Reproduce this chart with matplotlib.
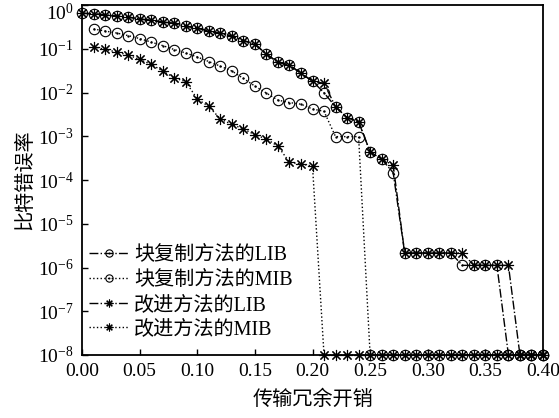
import numpy as np
import matplotlib
matplotlib.use("Agg")
import matplotlib.pyplot as plt
import matplotlib.transforms as mtrans
from matplotlib.path import Path

plt.rcParams['font.family'] = ['Liberation Serif', 'Noto Sans CJK SC']
plt.rcParams['mathtext.fontset'] = 'stix'

FLOOR = 1e-8

# x positions (transmission redundancy overhead)
x_lib = [round(0.01 * i, 2) for i in range(41)]
x_mib = [round(0.01 * i, 2) for i in range(1, 41)]

# Block replication method, LIB
block_lib = [0.646, 0.632, 0.590, 0.560, 0.531, 0.478, 0.447, 0.408, 0.381, 0.327,
             0.298, 0.254, 0.225, 0.195, 0.154, 0.127, 0.0756, 0.0491, 0.0424, 0.0274,
             0.0182, 0.00985, 0.00471, 0.00267, 0.00214, 0.00044, 0.000299, 0.000147,
             2.15e-6, 2.15e-6, 2.15e-6, 2.15e-6, 2.15e-6, 1.12e-6, 1.12e-6, 1.12e-6,
             1.12e-6, FLOOR, FLOOR, FLOOR, FLOOR]

# Improved method, LIB
impr_lib = [0.646, 0.632, 0.590, 0.560, 0.531, 0.478, 0.447, 0.408, 0.381, 0.327,
            0.298, 0.254, 0.225, 0.195, 0.154, 0.127, 0.0756, 0.0491, 0.0424, 0.0274,
            0.0182, 0.0162, 0.00471, 0.00267, 0.00214, 0.00044, 0.000299, 0.000218,
            2.15e-6, 2.15e-6, 2.15e-6, 2.15e-6, 2.15e-6, 2.15e-6, 1.12e-6, 1.12e-6,
            1.12e-6, 1.12e-6, FLOOR, FLOOR, FLOOR]

# Block replication method, MIB (from 0.01)
block_mib = [0.283, 0.254, 0.229, 0.200, 0.171, 0.142, 0.118, 0.096, 0.080, 0.065,
             0.051, 0.040, 0.031, 0.021, 0.014, 0.0097, 0.0067, 0.0059, 0.0054, 0.0042,
             0.0037, 0.00098, 0.00098, 0.00098] + [FLOOR] * 16

# Improved method, MIB (from 0.01)
impr_mib = [0.111, 0.097, 0.084, 0.072, 0.057, 0.044, 0.031, 0.0217, 0.0177, 0.0071,
            0.0048, 0.0025, 0.00186, 0.00148, 0.00108, 0.00087, 0.00059, 0.000255,
            0.00023, 0.00021] + [FLOOR] * 20

labels = ['块复制方法的LIB', '块复制方法的MIB', '改进方法的LIB', '改进方法的MIB']
xticks = [0.00, 0.05, 0.10, 0.15, 0.20, 0.25, 0.30, 0.35, 0.40]

circ_dot = Path.make_compound_path(Path.unit_circle(),
                                   Path.circle((0, 0), 0.12))
star = (8, 2, 0)

fig = plt.figure(figsize=(5.59, 4.18), dpi=100)
ax = fig.add_axes([82/559, 1-355/418, 461/559, 350/418])

common = dict(color='black', lw=1.0, clip_on=False, mec='black', mew=0.8)
ax.plot(x_lib, block_lib, ls='-.', marker=circ_dot, ms=7.5, mfc='none', label=labels[0], **common)
ax.plot(x_mib, block_mib, ls=':', marker=circ_dot, ms=7.5, mfc='none', label=labels[1], **common)
ax.plot(x_lib, impr_lib, ls='-.', marker=star, ms=8, label=labels[2], **common)
ax.plot(x_mib, impr_mib, ls=':', marker=star, ms=8, label=labels[3], **common)

ax.set_yscale('log')
ax.set_ylim(1e-8, 1)
ax.set_xlim(0, 0.40)
ax.set_xticks(xticks)
ax.set_xticklabels([f'{v:.2f}' for v in xticks])
ax.set_yticks([10.0**(-k) for k in range(0, 9)])
ax.yaxis.set_minor_locator(matplotlib.ticker.NullLocator())
ax.tick_params(direction='in', length=4, width=1, labelsize=14, pad=6,
               top=False, right=False)
for s in ax.spines.values():
    s.set_linewidth(1.3)

# nudge the top y label down so it is not cut at the figure edge
ytk = ax.yaxis.get_major_ticks()
top_tick = ytk[0]
off = mtrans.ScaledTranslation(0, -6/100, fig.dpi_scale_trans)
top_tick.label1.set_transform(top_tick.label1.get_transform() + off)

ax.set_xlabel('传输冗余开销', fontsize=14.5, labelpad=7)
ax.set_ylabel('比特错误率', fontsize=14.5, labelpad=2)

leg = ax.legend(loc='lower left', bbox_to_anchor=(-0.012, 0.01), frameon=False,
                fontsize=14.5, handlelength=2.0, handletextpad=0.25,
                labelspacing=0.28, markerscale=0.7, borderaxespad=0.2)

fig.savefig('out.png', dpi=100)
